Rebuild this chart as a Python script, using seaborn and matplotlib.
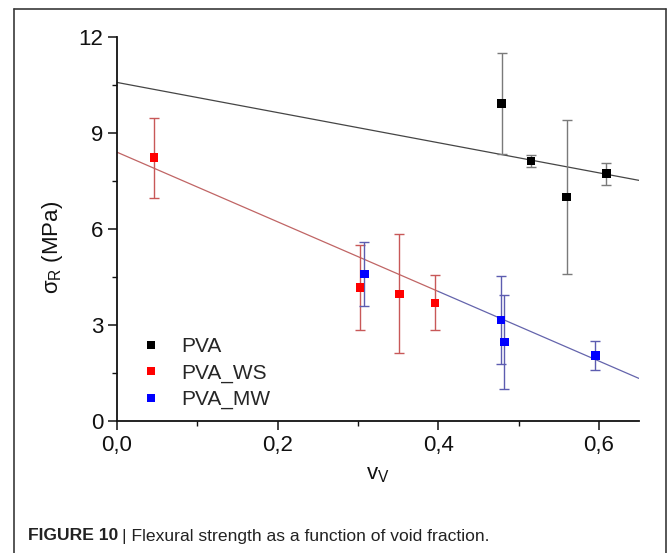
import matplotlib
matplotlib.use("Agg")
import matplotlib.pyplot as plt
from matplotlib.lines import Line2D
from matplotlib.ticker import FixedLocator
import numpy as np
import pandas as pd
import seaborn as sns

# ---- data ----
pva_x = [0.479, 0.5155, 0.560, 0.6095]
pva_y = [9.92, 8.13, 7.00, 7.73]
pva_err = [1.59, 0.18, 2.40, 0.34]

ws_x = [0.046, 0.3027, 0.3516, 0.396]
ws_y = [8.23, 4.18, 3.97, 3.69]
ws_err = [1.25, 1.33, 1.86, 0.86]

mw_x = [0.308, 0.478, 0.4824, 0.5955]
mw_y = [4.60, 3.16, 2.47, 2.04]
mw_err = [1.00, 1.37, 1.46, 0.45]

fit_pva_x = [0.0, 0.65]
fit_pva_y = [10.58, 7.52]
fit_ws_x = [0.0, 0.40]
fit_ws_y = [8.40, 4.05]
fit_mw_x = [0.40, 0.65]
fit_mw_y = [4.05, 1.33]

series_names = ["PVA", "PVA_WS", "PVA_MW"]
xtick_vals = [0.0, 0.2, 0.4, 0.6]
xtick_labels = ["0,0", "0,2", "0,4", "0,6"]
ytick_vals = [0, 3, 6, 9, 12]
ytick_labels = ["0", "3", "6", "9", "12"]

marker_colors = {"PVA": "#000000", "PVA_WS": "#ff0000", "PVA_MW": "#0000ff"}
err_colors = {"PVA": "#7a7a7a", "PVA_WS": "#c85858", "PVA_MW": "#5c5cb0"}
fit_colors = {"PVA": "#454545", "PVA_WS": "#c06565", "PVA_MW": "#6464ac"}

# ---- build table ----
df = pd.concat([
    pd.DataFrame({"v": pva_x, "s": pva_y, "e": pva_err, "series": "PVA"}),
    pd.DataFrame({"v": ws_x, "s": ws_y, "e": ws_err, "series": "PVA_WS"}),
    pd.DataFrame({"v": mw_x, "s": mw_y, "e": mw_err, "series": "PVA_MW"}),
], ignore_index=True)

sns.set_theme(style="ticks")
plt.rcParams["font.family"] = ["Liberation Sans", "DejaVu Sans"]
plt.rcParams["mathtext.default"] = "regular"

W, H = 669, 553
fig = plt.figure(figsize=(W / 100, H / 100), dpi=100)
ax = fig.add_axes([117 / W, 1 - 421 / H, (639 - 117) / W, (421 - 37) / H])

# fit lines
for fx, fy, name in [(fit_pva_x, fit_pva_y, "PVA"), (fit_ws_x, fit_ws_y, "PVA_WS"),
                     (fit_mw_x, fit_mw_y, "PVA_MW")]:
    sns.lineplot(x=fx, y=fy, ax=ax, color=fit_colors[name], lw=0.9, zorder=2)

# error bars
for name in series_names:
    sub = df[df.series == name]
    ax.errorbar(sub.v, sub.s, yerr=sub.e, fmt="none", ecolor=err_colors[name],
                elinewidth=1.0, capsize=3.5, capthick=1.0, zorder=3)

# markers
sns.scatterplot(data=df, x="v", y="s", hue="series", hue_order=series_names,
                palette=marker_colors, marker="s", s=38, linewidth=0,
                ax=ax, zorder=4)

sns.move_legend(ax, "upper left", bbox_to_anchor=(0.006, 0.245), frameon=False,
                title=None, fontsize=15, handletextpad=0.42, labelspacing=0.35,
                borderpad=0, markerscale=0.85)

ax.set_xlim(0, 0.65)
ax.set_ylim(0, 12)
ax.xaxis.set_major_locator(FixedLocator(xtick_vals))
ax.set_xticklabels(xtick_labels)
ax.xaxis.set_minor_locator(FixedLocator([0.1, 0.3, 0.5]))
ax.yaxis.set_major_locator(FixedLocator(ytick_vals))
ax.set_yticklabels(ytick_labels)
ax.yaxis.set_minor_locator(FixedLocator([1.5, 4.5, 7.5, 10.5]))
ax.tick_params(which="major", direction="out", length=6.5, width=1.1,
               labelsize=16, pad=3.5, colors="#111111")
ax.tick_params(which="minor", direction="out", length=3.5, width=1.0, colors="#111111")
for sp in ["top", "right"]:
    ax.spines[sp].set_visible(False)
for sp in ["left", "bottom"]:
    ax.spines[sp].set_linewidth(1.3)
    ax.spines[sp].set_color("#111111")

ax.set_xlabel("v$_V$", fontsize=16, color="#111111")
ax.set_ylabel("σ$_R$ (MPa)", fontsize=16, color="#111111")
ax.xaxis.set_label_coords(0.5, -0.113)
ax.yaxis.set_label_coords(-0.10, 0.453)

# outer frame (left, top, right edges)
fc = "#3a3a3a"
fx0, fx1, fy1 = 14 / W, 666 / W, 1 - 9 / H
fig.add_artist(Line2D([fx0, fx0], [0, fy1], transform=fig.transFigure, color=fc, lw=1.2))
fig.add_artist(Line2D([fx0, fx1], [fy1, fy1], transform=fig.transFigure, color=fc, lw=1.2))
fig.add_artist(Line2D([fx1, fx1], [0, fy1], transform=fig.transFigure, color=fc, lw=1.2))

# caption
cap_y = 1 - 536 / H
t1 = fig.text(28 / W, cap_y, "FIGURE 10", fontsize=12.6, fontweight="bold",
              color="#222222", va="center", ha="left")
fig.canvas.draw()
r = fig.canvas.get_renderer()
bb = t1.get_window_extent(renderer=r)
fig.text((bb.x1 + 4) / W, cap_y, "| Flexural strength as a function of void fraction.",
         fontsize=12.6, color="#222222", va="center", ha="left")

fig.savefig("out.png", dpi=100)
